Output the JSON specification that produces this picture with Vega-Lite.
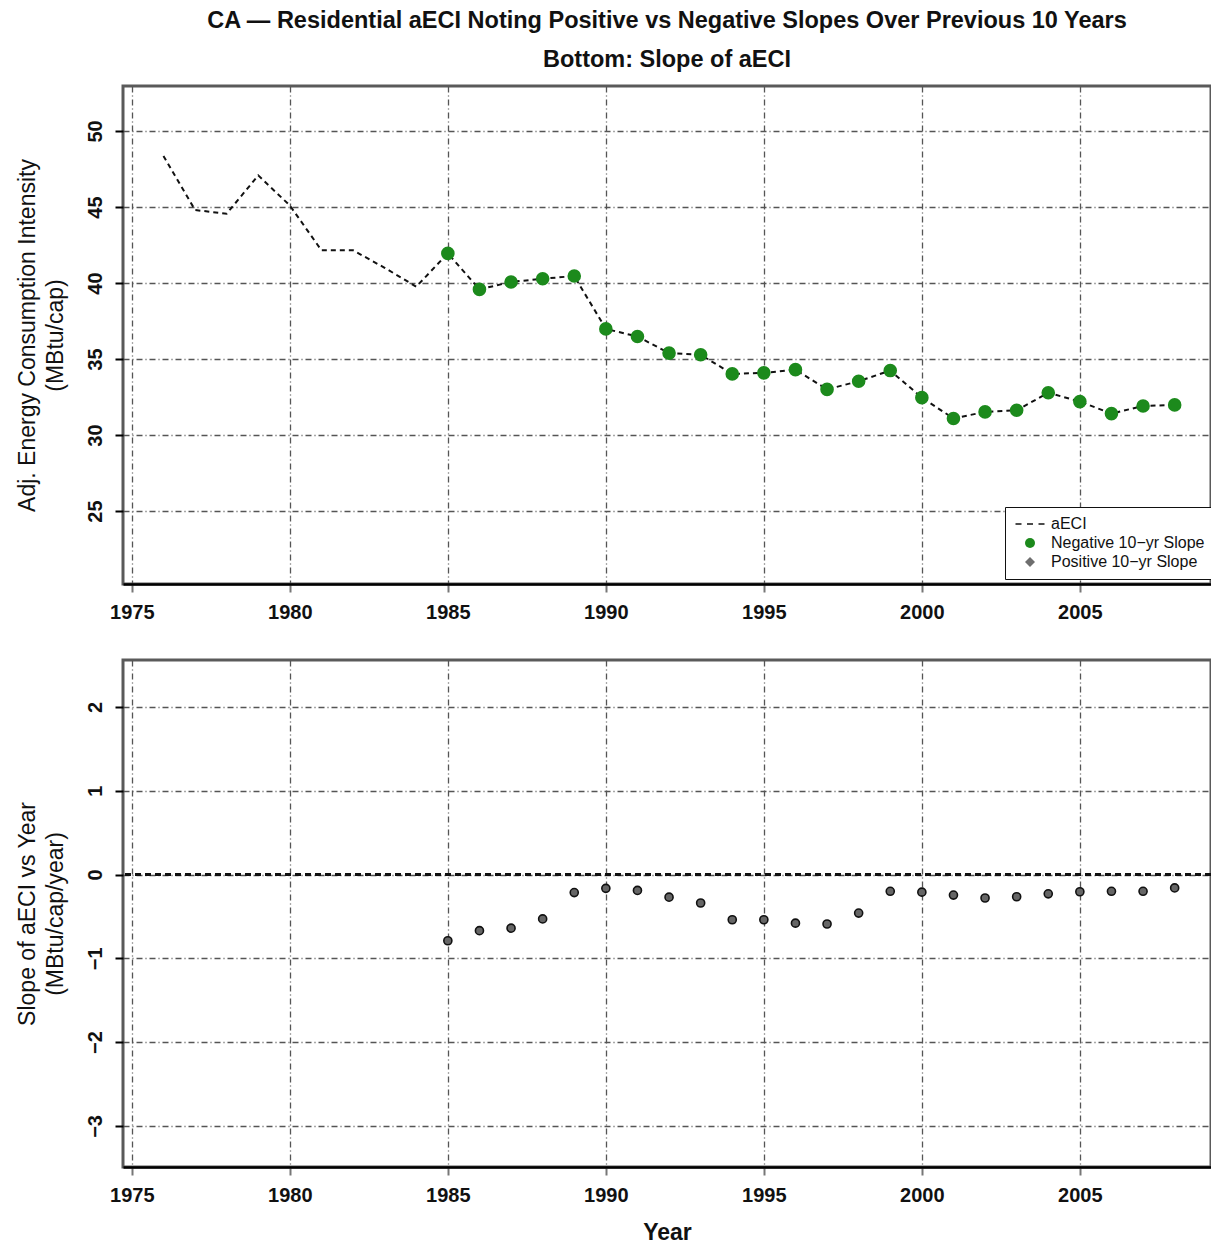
{
  "$schema": "https://vega.github.io/schema/vega-lite/v6.json",
  "padding": {"left": 14, "top": 7, "right": 0, "bottom": 0},
  "spacing": 34,
  "datasets": {
    "aeci": [
      {"year": 1976, "aeci": 48.36, "series": null},
      {"year": 1977, "aeci": 44.8, "series": null},
      {"year": 1978, "aeci": 44.56, "series": null},
      {"year": 1979, "aeci": 47.08, "series": null},
      {"year": 1980, "aeci": 45.1, "series": null},
      {"year": 1981, "aeci": 42.15, "series": null},
      {"year": 1982, "aeci": 42.15, "series": null},
      {"year": 1983, "aeci": 41.0, "series": null},
      {"year": 1984, "aeci": 39.76, "series": null},
      {"year": 1985, "aeci": 41.95, "series": "Negative 10−yr Slope"},
      {"year": 1986, "aeci": 39.58, "series": "Negative 10−yr Slope"},
      {"year": 1987, "aeci": 40.07, "series": "Negative 10−yr Slope"},
      {"year": 1988, "aeci": 40.28, "series": "Negative 10−yr Slope"},
      {"year": 1989, "aeci": 40.46, "series": "Negative 10−yr Slope"},
      {"year": 1990, "aeci": 36.98, "series": "Negative 10−yr Slope"},
      {"year": 1991, "aeci": 36.48, "series": "Negative 10−yr Slope"},
      {"year": 1992, "aeci": 35.39, "series": "Negative 10−yr Slope"},
      {"year": 1993, "aeci": 35.28, "series": "Negative 10−yr Slope"},
      {"year": 1994, "aeci": 34.02, "series": "Negative 10−yr Slope"},
      {"year": 1995, "aeci": 34.09, "series": "Negative 10−yr Slope"},
      {"year": 1996, "aeci": 34.3, "series": "Negative 10−yr Slope"},
      {"year": 1997, "aeci": 33.0, "series": "Negative 10−yr Slope"},
      {"year": 1998, "aeci": 33.54, "series": "Negative 10−yr Slope"},
      {"year": 1999, "aeci": 34.24, "series": "Negative 10−yr Slope"},
      {"year": 2000, "aeci": 32.46, "series": "Negative 10−yr Slope"},
      {"year": 2001, "aeci": 31.09, "series": "Negative 10−yr Slope"},
      {"year": 2002, "aeci": 31.52, "series": "Negative 10−yr Slope"},
      {"year": 2003, "aeci": 31.63, "series": "Negative 10−yr Slope"},
      {"year": 2004, "aeci": 32.78, "series": "Negative 10−yr Slope"},
      {"year": 2005, "aeci": 32.2, "series": "Negative 10−yr Slope"},
      {"year": 2006, "aeci": 31.41, "series": "Negative 10−yr Slope"},
      {"year": 2007, "aeci": 31.91, "series": "Negative 10−yr Slope"},
      {"year": 2008, "aeci": 31.98, "series": "Negative 10−yr Slope"}
    ],
    "slope": [
      {"year": 1985, "slope": -0.79},
      {"year": 1986, "slope": -0.67},
      {"year": 1987, "slope": -0.64},
      {"year": 1988, "slope": -0.53},
      {"year": 1989, "slope": -0.215},
      {"year": 1990, "slope": -0.165},
      {"year": 1991, "slope": -0.19},
      {"year": 1992, "slope": -0.27},
      {"year": 1993, "slope": -0.34},
      {"year": 1994, "slope": -0.54},
      {"year": 1995, "slope": -0.54},
      {"year": 1996, "slope": -0.58},
      {"year": 1997, "slope": -0.59},
      {"year": 1998, "slope": -0.46},
      {"year": 1999, "slope": -0.2},
      {"year": 2000, "slope": -0.21},
      {"year": 2001, "slope": -0.245},
      {"year": 2002, "slope": -0.28},
      {"year": 2003, "slope": -0.265},
      {"year": 2004, "slope": -0.23},
      {"year": 2005, "slope": -0.205},
      {"year": 2006, "slope": -0.2},
      {"year": 2007, "slope": -0.2},
      {"year": 2008, "slope": -0.16}
    ]
  },
  "config": {
    "font": "Liberation Sans",
    "view": {"stroke": "#5a5a5a", "strokeWidth": 3},
    "axis": {
      "labelFont": "Liberation Sans",
      "labelFontWeight": "bold",
      "labelFontSize": 20,
      "labelColor": "#111",
      "titleFont": "Liberation Sans",
      "titleFontWeight": "normal",
      "titleFontSize": 23,
      "titleColor": "#111",
      "grid": true,
      "gridColor": "#555",
      "gridDash": [6, 3, 1, 3],
      "gridWidth": 1.3,
      "ticks": true,
      "tickSize": 8,
      "tickWidth": 2,
      "labelPadding": 10
    },
    "axisX": {"domain": true, "domainColor": "#000", "domainWidth": 2.5, "tickColor": "#777", "labelOverlap": false},
    "axisY": {"domain": false, "tickColor": "#000", "labelAngle": -90, "labelAlign": "center", "labelBaseline": "bottom", "labelPadding": 10, "titlePadding": 18, "titleLineHeight": 28}
  },
  "vconcat": [
    {
      "width": 1088,
      "height": 498,
      "title": {
        "text": ["CA — Residential aECI Noting Positive vs Negative Slopes Over Previous 10 Years", "Bottom: Slope of aECI"],
        "font": "Liberation Sans",
        "fontSize": 23.5,
        "fontWeight": "bold",
        "color": "#111",
        "lineHeight": 39,
        "anchor": "middle",
        "frame": "group",
        "offset": 15
      },
      "data": {"name": "aeci"},
      "layer": [
        {
          "mark": {"type": "line", "color": "#111", "strokeDash": [5, 4], "strokeWidth": 2},
          "encoding": {
            "x": {"field": "year", "type": "quantitative", "scale": {"domain": [1974.72, 2009.15], "nice": false, "zero": false},
                  "axis": {"values": [1975, 1980, 1985, 1990, 1995, 2000, 2005], "format": "d", "title": null}},
            "y": {"field": "aeci", "type": "quantitative", "scale": {"domain": [20.2, 52.96], "nice": false, "zero": false},
                  "axis": {"values": [25, 30, 35, 40, 45, 50], "title": ["Adj. Energy Consumption Intensity", "(MBtu/cap)"]}}
          }
        },
        {
          "transform": [{"filter": "datum.series != null"}],
          "mark": {"type": "point", "filled": true, "opacity": 1, "size": 185},
          "encoding": {
            "x": {"field": "year", "type": "quantitative"},
            "y": {"field": "aeci", "type": "quantitative"},
            "color": {
              "field": "series", "type": "nominal",
              "scale": {"domain": ["aECI", "Negative 10−yr Slope", "Positive 10−yr Slope"], "range": ["#111111", "#1c8a1c", "#6e6e6e"]},
              "legend": {
                "title": null, "orient": "none", "legendX": 882, "legendY": 421,
                "direction": "vertical",
                "strokeColor": "#111", "fillColor": "white", "padding": 9,
                "symbolOffset": 8, "symbolSize": 100, "labelOffset": 13,
                "labelFont": "Liberation Sans", "labelFontSize": 16, "labelColor": "#111",
                "rowPadding": 3,
                "symbolStrokeWidth": 0
              }
            },
            "shape": {
              "field": "series", "type": "nominal",
              "scale": {"domain": ["aECI", "Negative 10−yr Slope", "Positive 10−yr Slope"], "range": ["M-2.9,-0.13H-1.7V0.13H-2.9Z M-0.6,-0.13H0.6V0.13H-0.6Z M1.7,-0.13H2.9V0.13H1.7Z", "circle", "diamond"]},
              "legend": null
            }
          }
        }
      ]
    },
    {
      "width": 1088,
      "height": 507,
      "data": {"name": "slope"},
      "layer": [
        {
          "mark": {"type": "rule", "color": "#111", "strokeDash": [6, 4], "strokeWidth": 1.5},
          "encoding": {"y": {"datum": 0, "type": "quantitative"}}
        },
        {
          "mark": {"type": "point", "filled": true, "fill": "#666", "stroke": "#111", "strokeWidth": 1.6, "opacity": 1, "size": 65},
          "encoding": {
            "x": {"field": "year", "type": "quantitative", "scale": {"domain": [1974.72, 2009.15], "nice": false, "zero": false},
                  "axis": {"values": [1975, 1980, 1985, 1990, 1995, 2000, 2005], "format": "d", "title": "Year", "titleFontWeight": "bold", "titlePadding": 16}},
            "y": {"field": "slope", "type": "quantitative", "scale": {"domain": [-3.49, 2.56], "nice": false, "zero": false},
                  "axis": {"values": [-3, -2, -1, 0, 1, 2], "format": "d", "title": ["Slope of aECI vs Year", "(MBtu/cap/year)"]}}
          }
        }
      ]
    }
  ]
}
